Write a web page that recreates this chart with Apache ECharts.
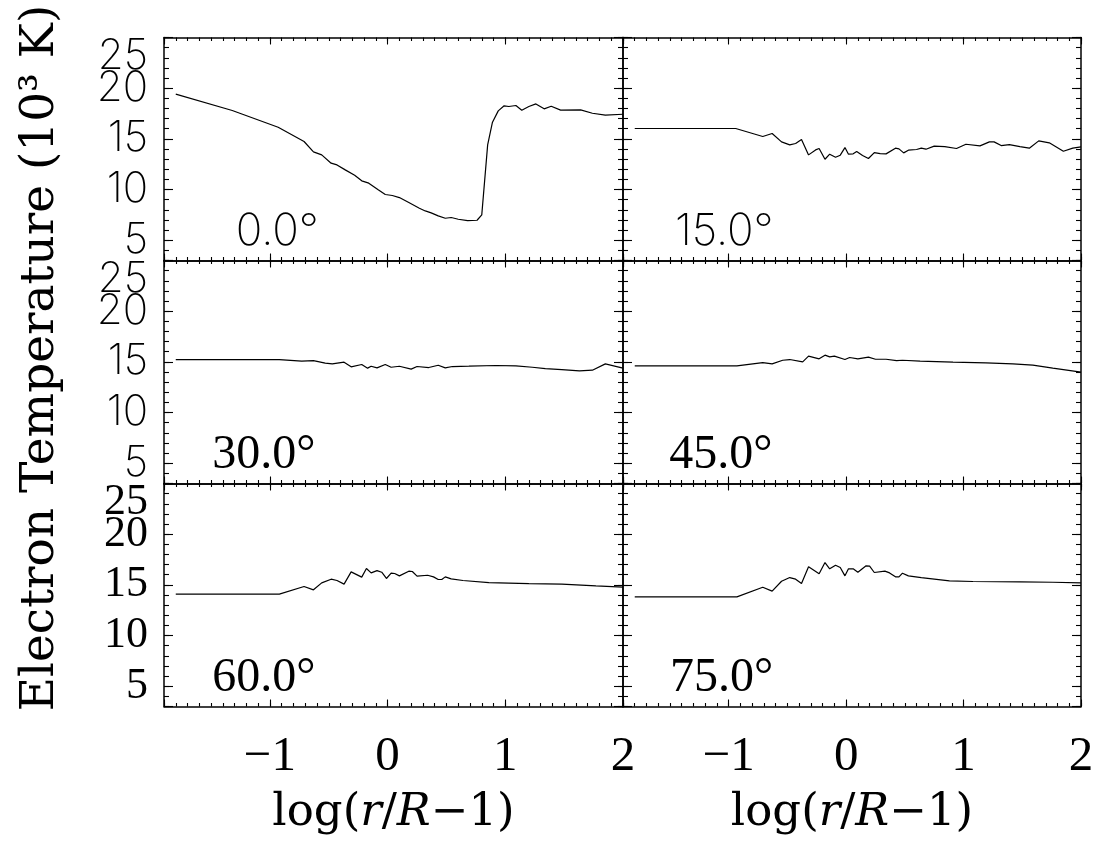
<!DOCTYPE html>
<html>
<head>
<meta charset="utf-8">
<script src="https://cdn.jsdelivr.net/npm/echarts@6/dist/echarts.min.js"></script>
<style>
  html, body { margin: 0; padding: 0; background: #fff; }
  #chart { width: 1103px; height: 843px; }
</style>
</head>
<body>
<div id="chart"></div>
<script>
// Electron temperature (10^3 K) against log(r/R-1), one panel per polar angle.
const angles = ['0.0°', '15.0°', '30.0°', '45.0°', '60.0°', '75.0°'];
const xTickValues = [-1, 0, 1, 2];
const yTickValues = [5, 10, 15, 20, 25];

const logR0 = [-1.80,-1.32,-0.93,-0.71,-0.63,-0.56,-0.48,-0.43,-0.36,-0.28,-0.22,-0.16,-0.08,-0.02,0.04,0.10,0.18,0.27,0.32,0.37,0.43,0.49,0.54,0.60,0.68,0.76,0.80,0.85,0.89,0.94,0.99,1.03,1.09,1.14,1.20,1.26,1.33,1.39,1.47,1.64,1.74,1.85,2.00];
const te0   = [19.41,17.80,16.15,14.74,13.72,13.42,12.60,12.43,11.94,11.41,10.86,10.63,9.97,9.51,9.41,9.21,8.72,8.16,7.89,7.70,7.40,7.17,7.24,7.07,6.94,6.97,7.50,14.41,16.61,17.76,18.26,18.19,18.29,17.83,18.19,18.45,17.96,18.22,17.83,17.86,17.53,17.34,17.43];

const logR15 = [-1.80,-0.94,-0.71,-0.63,-0.55,-0.48,-0.43,-0.38,-0.32,-0.26,-0.23,-0.18,-0.14,-0.09,-0.05,-0.01,0.02,0.06,0.09,0.14,0.19,0.24,0.29,0.34,0.42,0.45,0.49,0.53,0.60,0.64,0.68,0.75,0.84,0.94,1.02,1.14,1.22,1.26,1.32,1.39,1.48,1.56,1.64,1.73,1.85,1.93,2.00];
const te15   = [16.02,16.02,15.23,15.53,14.70,14.41,14.54,14.93,13.42,13.91,14.05,12.99,13.49,13.19,13.39,14.14,13.49,13.52,13.75,13.36,13.06,13.65,13.55,13.52,14.08,14.01,13.62,13.88,13.95,14.08,13.98,14.28,14.24,14.05,14.47,14.31,14.70,14.70,14.34,14.44,14.24,14.08,14.80,14.61,13.78,14.08,14.21];

const logR30 = [-1.80,-0.92,-0.73,-0.63,-0.53,-0.47,-0.37,-0.31,-0.22,-0.17,-0.14,-0.09,-0.02,0.03,0.10,0.20,0.25,0.35,0.43,0.49,0.55,0.69,0.92,1.09,1.23,1.34,1.48,1.63,1.74,1.85,2.00];
const te30   = [15.23,15.23,15.07,15.13,14.87,14.80,14.97,14.51,14.74,14.38,14.57,14.41,14.74,14.47,14.57,14.28,14.54,14.44,14.67,14.41,14.54,14.57,14.64,14.61,14.47,14.34,14.24,14.11,14.18,14.80,14.38];

const logR45 = [-1.80,-0.93,-0.71,-0.63,-0.54,-0.48,-0.37,-0.32,-0.23,-0.18,-0.14,-0.10,-0.01,0.03,0.10,0.19,0.25,0.34,0.43,0.48,0.63,0.91,1.19,1.42,1.59,1.76,2.00];
const te45   = [14.61,14.61,14.93,14.80,15.16,15.23,15.00,15.56,15.30,15.66,15.49,15.56,15.23,15.43,15.30,15.46,15.26,15.26,15.13,15.16,15.07,14.97,14.90,14.80,14.67,14.38,13.98];

const logR60 = [-1.80,-0.92,-0.71,-0.63,-0.56,-0.48,-0.43,-0.37,-0.31,-0.22,-0.18,-0.14,-0.09,-0.05,-0.01,0.03,0.06,0.10,0.18,0.21,0.25,0.34,0.39,0.43,0.46,0.49,0.54,0.64,0.86,1.20,1.48,1.77,2.00];
const te60   = [14.08,14.08,14.84,14.51,15.20,15.56,15.43,15.07,16.28,15.76,16.61,16.18,16.41,16.25,15.63,16.15,16.12,15.89,16.35,16.32,15.86,15.95,15.79,15.53,15.53,15.79,15.59,15.43,15.23,15.13,15.07,14.90,14.77];

const logR75 = [-1.80,-0.93,-0.71,-0.63,-0.55,-0.48,-0.43,-0.38,-0.32,-0.23,-0.18,-0.14,-0.09,-0.05,-0.01,0.02,0.06,0.10,0.17,0.20,0.24,0.33,0.37,0.42,0.45,0.48,0.53,0.64,0.88,1.08,1.48,1.76,2.00];
const te75   = [13.82,13.82,14.77,14.38,15.36,15.72,15.56,15.13,16.78,16.09,17.20,16.58,16.94,16.71,15.89,16.58,16.58,16.25,16.88,16.84,16.22,16.35,16.18,15.79,15.79,16.15,15.89,15.72,15.39,15.33,15.30,15.26,15.20];

const panels = [
  { label: angles[0], x: logR0,  t: te0  },
  { label: angles[1], x: logR15, t: te15 },
  { label: angles[2], x: logR30, t: te30 },
  { label: angles[3], x: logR45, t: te45 },
  { label: angles[4], x: logR60, t: te60 },
  { label: angles[5], x: logR75, t: te75 }
];

// Layout of the 3 x 2 panel block
const ROWS = 3;
const colLeft = [164, 623];
const colWidth = [459, 458];
const top0 = 37.5;
const rowH = 223;
const X_MIN = -1.9, X_MAX = 2, Y_MIN = 3, Y_MAX = 25;

const SANS = 'Inter';              // thin numerals
const SERIF = 'Liberation Serif';  // light serif numerals
const TITLE_SERIF = 'DejaVu Serif';
const ink = '#000';

// Panel-label placement (left edge, vertical centre) and fonts per row
const labelPos = [[235.7, 232], [675, 232], [212.3, 455], [669.3, 455], [212.3, 678], [670, 678]];
const rowYFont = [SANS, SANS, SERIF];
const rowLabelFont = [SANS, SERIF, SERIF];
const fontSpec = (fam, size) => (fam === SANS ? '200 ' : '') + size + 'px "' + fam + '"';
const ySize = fam => (fam === SANS ? 42 : 44);
const labelSize = fam => (fam === SANS ? 44 : 48);

const near = (a, b) => Math.abs(a - b) < 1e-6;
const fmtX = v => {
  const hit = xTickValues.find(t => near(t, v));
  if (hit === undefined) return '';
  return hit < 0 ? '\u2212' + Math.abs(hit) : String(hit);
};
// The top value is written a little below its tick (see the extra labels further down)
const fmtY = v => {
  const hit = yTickValues.find(t => near(t, v));
  return hit === undefined || hit === Y_MAX ? '' : String(hit);
};

const frame = { show: true, onZero: false, lineStyle: { color: ink, width: 1.5 } };
const noLine = { show: false, onZero: false };
const tick = len => ({ show: true, inside: true, length: len, lineStyle: { color: ink, width: 1.1 } });

const grid = [], xAxis = [], yAxis = [], series = [], graphic = [];

panels.forEach((p, i) => {
  const r = Math.floor(i / 2), c = i % 2;
  const bottomRow = r === ROWS - 1;
  grid.push({ left: colLeft[c], width: colWidth[c], top: top0 + r * rowH, height: rowH, show: false });

  const xBase = { gridIndex: i, type: 'value', min: X_MIN, max: X_MAX, splitLine: { show: false } };
  const yBase = { gridIndex: i, type: 'value', min: Y_MIN, max: Y_MAX, splitLine: { show: false } };

  // x: major bottom (labels on the last row), minor bottom, major top, minor top
  xAxis.push(Object.assign({}, xBase, {
    position: 'bottom', splitNumber: 4, axisLine: frame, axisTick: tick(7),
    axisLabel: {
      show: bottomRow, formatter: fmtX, hideOverlap: false,
      margin: 26, color: ink, fontFamily: SERIF, fontSize: 49, lineHeight: 50
    },
    name: bottomRow ? '{n|log(}{i|r}{n|/}{i|R}{n|\u22121)}' : '',
    nameLocation: 'middle', nameGap: 84,
    nameTextStyle: {
      color: ink, fontFamily: TITLE_SERIF, fontSize: 45, lineHeight: 46,
      rich: {
        n: { fontFamily: TITLE_SERIF, fontSize: 45, color: ink },
        i: { fontFamily: TITLE_SERIF, fontSize: 45, fontStyle: 'italic', color: ink }
      }
    }
  }));
  xAxis.push(Object.assign({}, xBase, {
    position: 'bottom', interval: 0.1, axisLine: noLine, axisTick: tick(3.5), axisLabel: { show: false }
  }));
  xAxis.push(Object.assign({}, xBase, {
    position: 'top', splitNumber: 4, axisLine: frame, axisTick: tick(7), axisLabel: { show: false }
  }));
  xAxis.push(Object.assign({}, xBase, {
    position: 'top', interval: 0.1, axisLine: noLine, axisTick: tick(3.5), axisLabel: { show: false }
  }));

  // y: major left (labels on the left column), minor left, major right, minor right
  const yFont = rowYFont[r];
  yAxis.push(Object.assign({}, yBase, {
    position: 'left', splitNumber: 5, axisLine: frame, axisTick: tick(9),
    axisLabel: {
      show: c === 0, formatter: fmtY, hideOverlap: false,
      margin: 16, color: ink, fontFamily: yFont,
      fontSize: ySize(yFont), fontWeight: yFont === SANS ? 200 : 'normal'
    }
  }));
  yAxis.push(Object.assign({}, yBase, {
    position: 'left', interval: 1, axisLine: noLine, axisTick: tick(5), axisLabel: { show: false }
  }));
  yAxis.push(Object.assign({}, yBase, {
    position: 'right', splitNumber: 5, axisLine: frame, axisTick: tick(9), axisLabel: { show: false }
  }));
  yAxis.push(Object.assign({}, yBase, {
    position: 'right', interval: 1, axisLine: noLine, axisTick: tick(5), axisLabel: { show: false }
  }));

  series.push({
    type: 'line',
    xAxisIndex: i * 4,
    yAxisIndex: i * 4,
    data: p.x.map((x, k) => [x, p.t[k]]),
    showSymbol: false,
    symbol: 'none',
    lineStyle: { color: ink, width: 1.2 },
    silent: true
  });

  const lf = rowLabelFont[r];
  graphic.push({
    type: 'text',
    id: 'angle' + i,
    x: labelPos[i][0],
    y: labelPos[i][1],
    style: {
      text: p.label,
      fill: ink,
      font: fontSpec(lf, labelSize(lf)),
      align: 'left',
      verticalAlign: 'middle'
    },
    silent: true
  });
});

// Shared y-axis title
graphic.push({
  type: 'text',
  id: 'ytitle',
  x: 41,
  y: 358,
  rotation: Math.PI / 2,
  style: {
    text: 'Electron Temperature (10\u00B3 K)',
    fill: ink,
    font: '47px "' + TITLE_SERIF + '"',
    align: 'center',
    verticalAlign: 'middle'
  },
  silent: true
});

const chart = echarts.init(document.getElementById('chart'), null, { renderer: 'canvas' });
chart.setOption({
  animation: false,
  backgroundColor: '#fff',
  grid, xAxis, yAxis, series, graphic
});

// Top tick value of each row, placed just under the top frame through the axis scale
const topLabels = [];
for (let r = 0; r < ROWS; r++) {
  const axisIdx = r * 2 * 4;
  const py = chart.convertToPixel({ yAxisIndex: axisIdx }, Y_MAX);
  const px = chart.convertToPixel({ xAxisIndex: axisIdx }, X_MIN);
  const yFont = rowYFont[r];
  topLabels.push({
    type: 'text',
    id: 'ytop' + r,
    x: px - 16,
    y: py + 19,
    style: {
      text: String(Y_MAX),
      fill: ink,
      font: fontSpec(yFont, ySize(yFont)),
      align: 'right',
      verticalAlign: 'middle'
    },
    silent: true
  });
}
chart.setOption({ graphic: topLabels });
</script>
</body>
</html>
